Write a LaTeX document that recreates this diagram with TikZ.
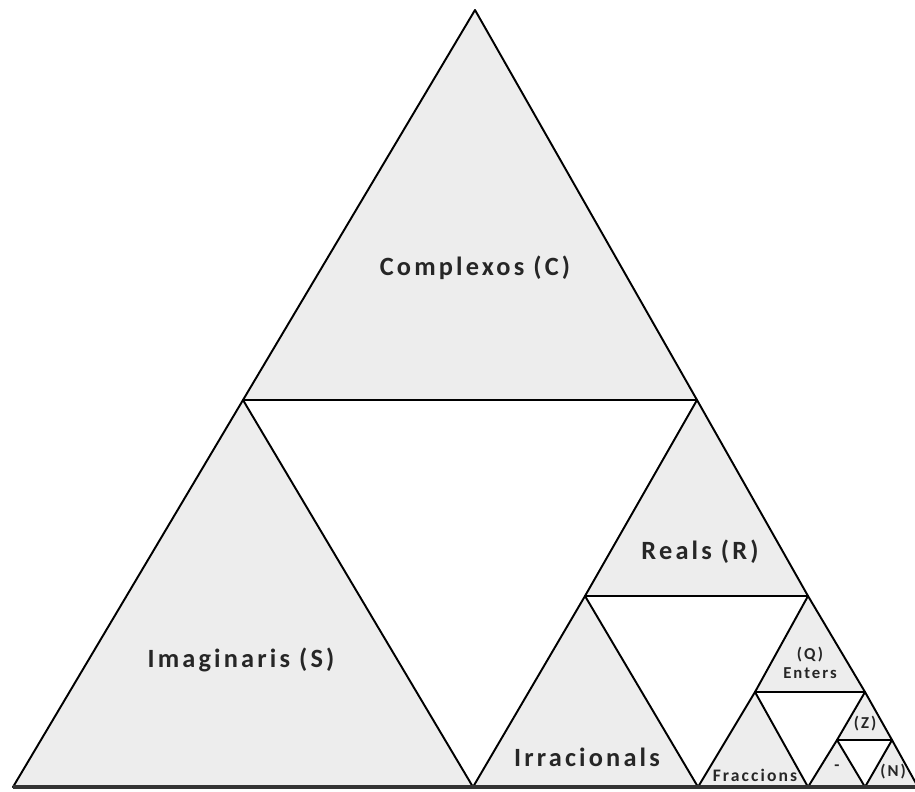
\documentclass[tikz,border=0pt]{standalone}
\usepackage{fontspec}
\setmainfont{Carlito}[LetterSpace=12]
\begin{document}
\begin{tikzpicture}[x=0.02cm,y=-0.02cm,
  part/.style={fill=black!7,draw=black,line width=1.1pt,line join=round},
  biglabel/.style={font=\fontsize{15}{17}\selectfont\bfseries,text=black!85,inner sep=0pt},
  smalllabel/.style={font=\fontsize{9.5}{10.5}\selectfont\bfseries,text=black!85,inner sep=0pt,align=center}]
\useasboundingbox (0,0) rectangle (915,791);
\clip (0,0) rectangle (915,791);
\fill[white] (0,0) rectangle (915,791);
% corners of the whole triangle
\coordinate (A) at (475,10);
\coordinate (L) at (13,787);
\coordinate (R) at (918,787);
% first subdivision
\coordinate (P1) at (243,400);
\coordinate (P2) at (697,400);
\coordinate (P3) at (473,787);
% second subdivision (right corner)
\coordinate (Q1) at (585,596);
\coordinate (Q2) at (808,596);
\coordinate (Q3) at (698,787);
% third subdivision
\coordinate (S1) at (755,692);
\coordinate (S2) at (865,692);
\coordinate (S3) at (808,787);
% fourth subdivision
\coordinate (U1) at (837,740);
\coordinate (U2) at (892,740);
\coordinate (U3) at (865,787);
% shaded parts
\draw[part] (P1) -- (P2) -- (A) -- cycle;
\draw[part] (L) -- (P3) -- (P1) -- cycle;
\draw[part] (Q1) -- (Q2) -- (P2) -- cycle;
\draw[part] (P3) -- (Q3) -- (Q1) -- cycle;
\draw[part] (S1) -- (S2) -- (Q2) -- cycle;
\draw[part] (Q3) -- (S3) -- (S1) -- cycle;
\draw[part] (U1) -- (U2) -- (S2) -- cycle;
\draw[part] (S3) -- (U3) -- (U1) -- cycle;
\draw[part] (U3) -- (R) -- (U2) -- cycle;
% heavier base line
\draw[line width=1.8pt,draw=black!80] (L) -- (R);
% labels
\node[biglabel] (complexos) at (475,268) {Complexos (C)};
\node[biglabel] (imaginaris) at (241,660) {Imaginaris (S)};
\node[biglabel] (reals) at (700,552) {Reals (R)};
\node[biglabel] (irracionals) at (587,757) {Irracionals};
\node[smalllabel] (enters) at (810,663) {(Q)\\Enters};
\node[smalllabel,font=\fontsize{10}{11}\selectfont\bfseries] (fraccions) at (755,775) {Fraccions};
\node[smalllabel] (zeta) at (865,724) {(Z)};
\node[smalllabel] (menys) at (837,768) {-};
\node[smalllabel] (naturals) at (893,772) {(N)};
\end{tikzpicture}
\end{document}
